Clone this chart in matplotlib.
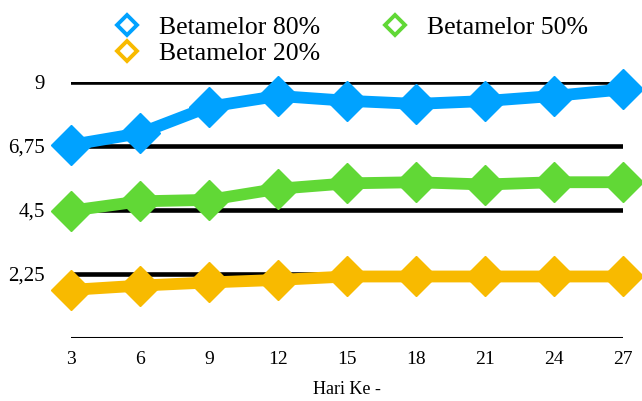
import matplotlib
matplotlib.use("Agg")
import matplotlib.pyplot as plt
from matplotlib.lines import Line2D
from matplotlib.ticker import FuncFormatter

plt.rcParams['font.family'] = ['Liberation Serif', 'DejaVu Serif']

# data
hari = [3, 6, 9, 12, 15, 18, 21, 24, 27]
beta80 = [6.78, 7.19, 8.12, 8.5, 8.33, 8.22, 8.32, 8.5, 8.73]
beta50 = [4.47, 4.8, 4.85, 5.24, 5.43, 5.47, 5.39, 5.47, 5.47]
beta20 = [1.69, 1.84, 1.95, 2.04, 2.16, 2.16, 2.16, 2.16, 2.16]
yticks = [2.25, 4.5, 6.75, 9]

labels = ['Betamelor 80%', 'Betamelor 50%', 'Betamelor 20%']
colors = ['#00A2FF', '#61D836', '#F8BA00']

fig = plt.figure(figsize=(6.42, 4.01), dpi=100)
ax = fig.add_axes([71/642, 63/401, 552/642, 256.3/401])

# grid lines
for yv in yticks:
    ax.axhline(yv, color='black', lw=3.3, zorder=1)
ax.axhline(0, color='black', lw=2.2, zorder=1)

for series, c in [(beta20, colors[2]), (beta50, colors[1]), (beta80, colors[0])]:
    ax.plot(hari, series, color=c, lw=8.5, marker='D', ms=20, mec=c,
            mfc=c, zorder=3, clip_on=False, solid_joinstyle='round')

ax.set_xlim(3, 27)
ax.set_ylim(0, 9)
ax.set_xticks(hari)
ax.set_yticks(yticks)
ax.yaxis.set_major_formatter(FuncFormatter(lambda v, p: ('%g' % v).replace('.', ',')))
ax.tick_params(axis='both', length=0, labelsize=14)
ax.tick_params(axis='y', pad=19, labelsize=15)
ax.tick_params(axis='x', pad=9)
for s in ax.spines.values():
    s.set_visible(False)

fig.text(347/642, 1 - 389/401, 'Hari Ke -', ha='center', va='center', fontsize=13)

# legend fills column by column, so order 80, 20, 50 gives rows 80|50 and 20
order = [0, 2, 1]
handles = [Line2D([], [], ls='none', marker='D', ms=10, mfc='white', mec=colors[i], mew=2.8)
           for i in order]
fig.legend(handles, [labels[i] for i in order], loc='upper left',
           bbox_to_anchor=(114/642, 0.96), ncol=2, frameon=False, fontsize=18.5,
           handlelength=1.0, handletextpad=0.75, columnspacing=2.4,
           labelspacing=0.12, borderpad=0, borderaxespad=0)

fig.savefig('out.png', dpi=100)
